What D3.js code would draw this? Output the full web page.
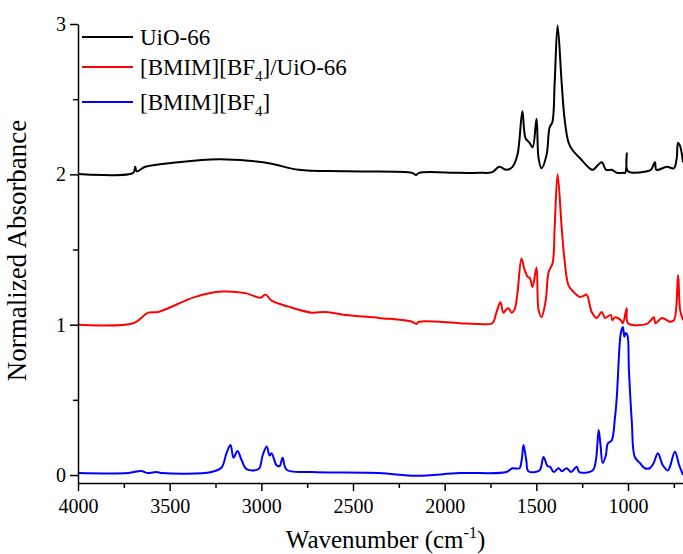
<!DOCTYPE html>
<html><head><meta charset="utf-8">
<script src="https://cdn.jsdelivr.net/npm/d3@7"></script>
<style>body{margin:0;background:#fff}svg{display:block}svg text{font-family:"Liberation Serif","Times New Roman",serif !important}</style>
</head><body>
<script>
// Wavenumber (cm-1) and normalized absorbance
const uioWave = [4000,3699,3688,3680,3633,3453,3234,3070,2944,2796,2539,2178,2156,2140,1920,1811,1740,1702,1663,1630,1603,1576,1559,1537,1520,1499,1488,1472,1444,1428,1412,1400,1384,1362,1346,1324,1302,1264,1209,1193,1143,1120,1089,1061,1028,1015,1007,1000,897,875,853,845,788,750,735,727,716,700];
const uioVal  = [2.003,2.01,2.05,2.02,2.05,2.08,2.10,2.09,2.07,2.03,2.02,2.01,1.995,2.01,2.01,2.01,2.015,2.05,2.03,2.05,2.13,2.42,2.24,2.21,2.18,2.37,2.11,2.04,2.13,2.31,2.35,2.61,2.99,2.61,2.37,2.21,2.16,2.11,2.04,2.03,2.08,2.03,2.03,2.01,2.01,2.01,2.14,2.02,2.02,2.03,2.08,2.03,2.05,2.04,2.10,2.21,2.19,2.08];

const mixWave = [4000,3699,3617,3562,3360,3217,3087,3005,2977,2944,2851,2725,2648,2539,2358,2178,2156,2140,1920,1811,1740,1718,1696,1680,1665,1652,1635,1619,1603,1581,1565,1548,1535,1521,1499,1488,1472,1449,1433,1411,1400,1384,1362,1346,1324,1291,1264,1245,1226,1198,1171,1143,1125,1094,1085,1070,1039,1028,1007,1000,897,875,859,850,815,771,749,727,716,700];
const mixVal  = [1.0,1.01,1.08,1.085,1.185,1.22,1.21,1.18,1.20,1.16,1.12,1.08,1.085,1.065,1.045,1.02,1.005,1.02,1.01,1.005,1.01,1.08,1.15,1.08,1.10,1.11,1.08,1.10,1.21,1.44,1.37,1.32,1.31,1.25,1.38,1.10,1.05,1.16,1.35,1.41,1.65,2.0,1.65,1.43,1.26,1.21,1.185,1.19,1.20,1.085,1.045,1.085,1.045,1.065,1.03,1.05,1.03,1.01,1.11,1.01,1.005,1.03,1.05,1.01,1.045,1.02,1.03,1.33,1.10,1.03];

const ilWave = [4000,3726,3655,3620,3573,3540,3272,3217,3190,3168,3152,3130,3108,3081,3015,2993,2971,2955,2944,2917,2900,2884,2862,2725,2358,2156,1920,1663,1630,1592,1580,1570,1555,1543,1483,1461,1439,1425,1405,1379,1360,1335,1310,1280,1265,1193,1175,1160,1150,1138,1121,1110,1089,1072,1061,1056,1039,1028,1020,1012,1003,995,979,963,935,908,881,860,837,810,782,770,744,722,700];
const ilVal  = [0.013,0.013,0.027,0.013,0.02,0.013,0.02,0.05,0.145,0.20,0.115,0.16,0.10,0.04,0.04,0.13,0.19,0.13,0.145,0.065,0.06,0.115,0.035,0.02,0.013,-0.005,0.013,0.02,0.045,0.045,0.10,0.20,0.10,0.025,0.03,0.12,0.06,0.055,0.02,0.045,0.025,0.045,0.02,0.055,0.02,0.03,0.10,0.30,0.20,0.08,0.13,0.21,0.23,0.37,0.52,0.63,0.945,0.985,0.92,0.945,0.93,0.70,0.35,0.12,0.08,0.045,0.045,0.08,0.145,0.065,0.03,0.06,0.155,0.07,0.0];

const seriesNames = ["UiO-66","[BMIM][BF4]/UiO-66","[BMIM][BF4]"];
const seriesColors = ["#000000","#ff0000","#0000ff"];
const xTicks = [4000,3500,3000,2500,2000,1500,1000];
const yTicks = [0,1,2,3];

const W = 683, H = 554;
const mLeft = 78, mRight = 683, mTop = 24, mBottom = 483;
const svg = d3.select("body").append("svg").attr("width", W).attr("height", H);

const x = d3.scaleLinear().domain([4000, 700]).range([mLeft, mRight]);
const y = d3.scaleLinear().domain([-0.053, 3]).range([mBottom, mTop]);

svg.append("defs").append("clipPath").attr("id","clip")
  .append("rect").attr("x", mLeft).attr("y", 0).attr("width", mRight-mLeft).attr("height", mBottom);

const series = [
  {w: uioWave, v: uioVal},
  {w: mixWave, v: mixVal},
  {w: ilWave, v: ilVal}
];
const line = d3.line().x(d => x(d[0])).y(d => y(d[1])).curve(d3.curveCatmullRom.alpha(0.5));
const g = svg.append("g").attr("clip-path","url(#clip)");
series.forEach((s, i) => {
  const pts = s.w.map((w, k) => [w, s.v[k]]);
  g.append("path").datum(pts).attr("d", line)
    .attr("fill","none").attr("stroke", seriesColors[i]).attr("stroke-width", 2)
    .attr("stroke-linejoin","round");
});

// axes
const xMinor = d3.range(4000, 699, -250).filter(v => v % 500 !== 0);
const yMinor = [0.5,1.5,2.5];
const xAxis = svg.append("g").attr("transform", `translate(0,${mBottom})`)
  .call(d3.axisBottom(x).tickValues(xTicks).tickFormat(d3.format("d")).tickSize(8).tickSizeOuter(0));
svg.append("g").attr("transform", `translate(0,${mBottom})`)
  .call(d3.axisBottom(x).tickValues(xMinor).tickFormat("").tickSize(5).tickSizeOuter(0))
  .select(".domain").remove();
const yAxis = svg.append("g").attr("transform", `translate(${mLeft},0)`)
  .call(d3.axisLeft(y).tickValues(yTicks).tickFormat(d3.format("d")).tickSize(8).tickSizeOuter(0));
svg.append("g").attr("transform", `translate(${mLeft},0)`)
  .call(d3.axisLeft(y).tickValues(yMinor).tickFormat("").tickSize(5).tickSizeOuter(0))
  .select(".domain").remove();
svg.selectAll(".domain, .tick line").attr("stroke","#000").attr("stroke-width",1.5);
xAxis.selectAll("text").attr("font-size", 20).attr("fill","#000").attr("dy","0.95em");
yAxis.selectAll("text").attr("font-size", 20).attr("fill","#000").attr("x",-12);

// axis titles
const xt = svg.append("text").attr("x", (mLeft+mRight)/2 + 5).attr("y", 548).attr("text-anchor","middle")
  .attr("font-size", 25).attr("fill","#000");
xt.append("tspan").text("Wavenumber (cm");
xt.append("tspan").attr("font-size", 16).attr("dy", -10).text("-1");
xt.append("tspan").attr("dy", 10).text(")");
svg.append("text").attr("transform", `translate(26,${(mTop+mBottom)/2 - 3}) rotate(-90)`)
  .attr("text-anchor","middle").attr("font-size", 27).attr("fill","#000").text("Normalized Absorbance");

// legend
const legY = [37, 67, 102];
seriesNames.forEach((name, i) => {
  svg.append("line").attr("x1", 82).attr("x2", 133).attr("y1", legY[i]).attr("y2", legY[i])
    .attr("stroke", seriesColors[i]).attr("stroke-width", 2);
  const t = svg.append("text").attr("x", 140).attr("y", legY[i] + 8).attr("font-size", 23).attr("fill","#000");
  const m = name.match(/^(.*\[BF)4(\].*)$/);
  if (m) {
    t.append("tspan").text(m[1]);
    t.append("tspan").attr("font-size", 15).attr("dy", 6).text("4");
    t.append("tspan").attr("dy", -6).text(m[2]);
  } else t.text(name);
});
</script>
</body></html>
